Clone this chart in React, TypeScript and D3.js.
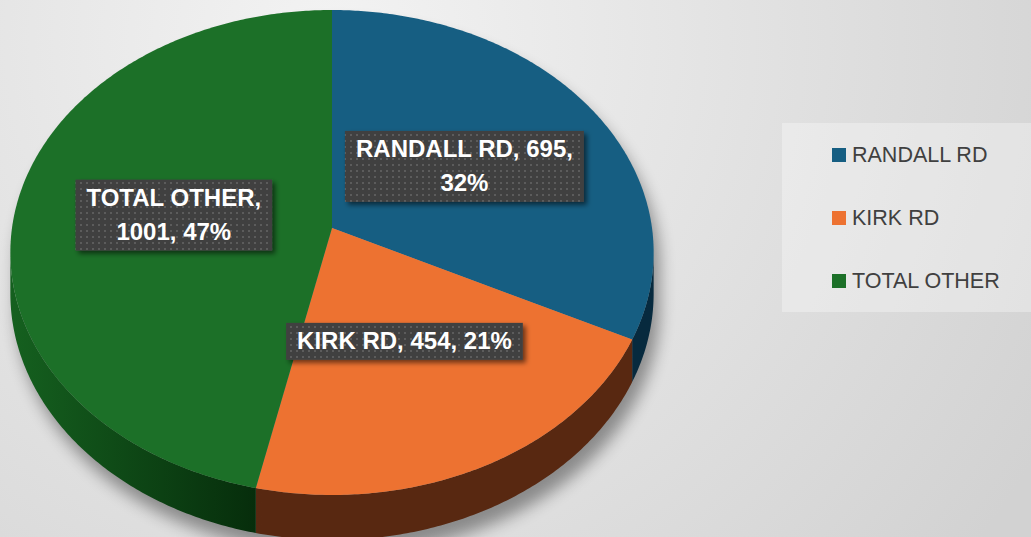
import { useEffect, useRef } from 'react';
import * as d3 from 'd3';

const categories = ['RANDALL RD', 'KIRK RD', 'TOTAL OTHER'];
const values = [695, 454, 1001];

const TOP_COLORS = ['#165e82', '#ed7231', '#1c7028'];
const SIDE_LIGHT = ['#0b3650', '#63301a', '#15601f'];
const SIDE_DARK = ['#072a3e', '#582811', '#062c0b'];

const W = 1031;
const H = 537;

export default function App() {
  const svgRef = useRef<SVGSVGElement>(null);

  useEffect(() => {
    if (!svgRef.current) return;
    const svg = d3.select(svgRef.current);
    svg.selectAll('*').remove();

    // perspective pie geometry
    const CX = 332, CY = 228, RX = 320, RY = 240, K = 0.101, DEPTH = 40.5;
    const proj = (t: number, r: number, z: number): [number, number] => {
      const u = r * Math.sin(t), v = -r * Math.cos(t);
      const s = 1 / (1 - K * v);
      return [CX + RX * u * s, CY + RY * v * s + z * s];
    };
    const arcPts = (a0: number, a1: number, z: number) => {
      const n = Math.max(2, Math.ceil((a1 - a0) / 0.01));
      return d3.range(n + 1).map(i => proj(a0 + (a1 - a0) * i / n, 1, z));
    };
    const line = d3.line();

    const defs = svg.append('defs');

    const bg = defs.append('radialGradient').attr('id', 'bg')
      .attr('gradientUnits', 'userSpaceOnUse').attr('cx', 330).attr('cy', 40).attr('r', 820);
    bg.append('stop').attr('offset', 0).attr('stop-color', '#f3f3f3');
    bg.append('stop').attr('offset', 1).attr('stop-color', '#d2d2d2');

    const pat = defs.append('pattern').attr('id', 'dots')
      .attr('patternUnits', 'userSpaceOnUse').attr('width', 6).attr('height', 6);
    pat.append('rect').attr('width', 6).attr('height', 6).attr('fill', '#414141');
    pat.append('rect').attr('x', 2).attr('y', 2).attr('width', 2).attr('height', 2).attr('fill', '#5c5c5c');

    const lblShadow = defs.append('filter').attr('id', 'lblShadow')
      .attr('x', '-20%').attr('y', '-30%').attr('width', '140%').attr('height', '170%');
    lblShadow.append('feDropShadow').attr('dx', 3).attr('dy', 3).attr('stdDeviation', 2.5)
      .attr('flood-color', '#000').attr('flood-opacity', 0.55);

    const pieShadow = defs.append('filter').attr('id', 'pieShadow')
      .attr('x', '-20%').attr('y', '-20%').attr('width', '140%').attr('height', '140%');
    pieShadow.append('feGaussianBlur').attr('stdDeviation', 8);

    TOP_COLORS.forEach((_, i) => {
      const g = defs.append('linearGradient').attr('id', `side${i}`)
        .attr('gradientUnits', 'userSpaceOnUse')
        .attr('x1', CX - RX).attr('x2', CX - 70).attr('y1', 0).attr('y2', 0);
      g.append('stop').attr('offset', 0).attr('stop-color', SIDE_LIGHT[i]);
      g.append('stop').attr('offset', 1).attr('stop-color', SIDE_DARK[i]);
    });

    svg.append('rect').attr('width', W).attr('height', H).attr('fill', 'url(#bg)');

    // soft shadow under the pie
    const tL = Math.PI + Math.acos(K), tR = Math.PI - Math.acos(K);
    const shadowPts = [...arcPts(tL - 2 * Math.PI, tR, 0), ...arcPts(tR, tL, DEPTH)];
    svg.append('path')
      .attr('d', (line(shadowPts) ?? '') + 'Z')
      .attr('transform', 'translate(6,14)')
      .attr('fill', '#000').attr('opacity', 0.38)
      .attr('filter', 'url(#pieShadow)');

    const pie = d3.pie<number>().sort(null).value(d => d);
    const arcs = pie(values);
    const total = d3.sum(values);

    // outer walls (visible front part only)
    arcs.forEach((a, i) => {
      const a0 = Math.max(a.startAngle, tR), a1 = Math.min(a.endAngle, tL);
      if (a1 <= a0) return;
      const pts = [...arcPts(a0, a1, 0), ...arcPts(a0, a1, DEPTH).reverse()];
      svg.append('path').attr('d', (line(pts) ?? '') + 'Z').attr('fill', `url(#side${i})`);
    });

    // top faces
    arcs.forEach((a, i) => {
      const pts = [proj(0, 0, 0), ...arcPts(a.startAngle, a.endAngle, 0)];
      svg.append('path').attr('d', (line(pts) ?? '') + 'Z').attr('fill', TOP_COLORS[i]);
    });

    // data labels
    const FS = 24, LH = 34, PAD = 11, WRAP = 230;
    arcs.forEach((a, i) => {
      const pct = Math.round(values[i] / total * 100);
      const words = `${categories[i]}, ${values[i]}, ${pct}%`.split(' ');
      const g = svg.append('g');
      const txt = g.append('text')
        .style('font-family', '"Liberation Sans", Arial, sans-serif')
        .style('font-weight', 'bold').style('font-size', `${FS}px`)
        .attr('fill', '#fff').attr('text-anchor', 'middle');
      // simple word wrap
      const lines: string[] = [];
      let cur = '';
      const probe = txt.append('tspan');
      words.forEach(w => {
        const next = cur ? `${cur} ${w}` : w;
        probe.text(next);
        if (cur && (probe.node() as SVGTSpanElement).getComputedTextLength() > WRAP) {
          lines.push(cur);
          cur = w;
        } else cur = next;
      });
      lines.push(cur);
      probe.remove();
      let maxW = 0;
      lines.forEach((l, j) => {
        const ts = txt.append('tspan').attr('x', 0).attr('y', j * LH).text(l);
        maxW = Math.max(maxW, (ts.node() as SVGTSpanElement).getComputedTextLength());
      });
      const mid = (a.startAngle + a.endAngle) / 2;
      const [lx, ly] = proj(mid, 0.5, 0);
      const bw = maxW + PAD * 2, bh = lines.length * LH + 3;
      const top = ly - bh / 2;
      g.insert('rect', 'text')
        .attr('x', lx - bw / 2).attr('y', top).attr('width', bw).attr('height', bh)
        .attr('fill', 'url(#dots)').attr('filter', 'url(#lblShadow)');
      txt.attr('transform', `translate(${lx},${top + 26})`);
    });

    // legend
    const leg = svg.append('g');
    leg.append('rect').attr('x', 782).attr('y', 123).attr('width', W - 782).attr('height', 189)
      .attr('fill', '#fff').attr('opacity', 0.32);
    const ly = d3.scalePoint<string>().domain(categories).range([162, 288]);
    categories.forEach((c, i) => {
      const y = ly(c) ?? 0;
      leg.append('rect').attr('x', 832).attr('y', y - 14).attr('width', 14).attr('height', 14)
        .attr('fill', TOP_COLORS[i]);
      leg.append('text').attr('x', 852).attr('y', y)
        .style('font-family', '"Liberation Sans", Arial, sans-serif').style('font-size', '21.5px')
        .attr('fill', '#404040').text(c);
    });
  }, []);

  return (
    <svg ref={svgRef} width={W} height={H}
      style={{ position: 'absolute', left: 0, top: 0, display: 'block' }} />
  );
}
